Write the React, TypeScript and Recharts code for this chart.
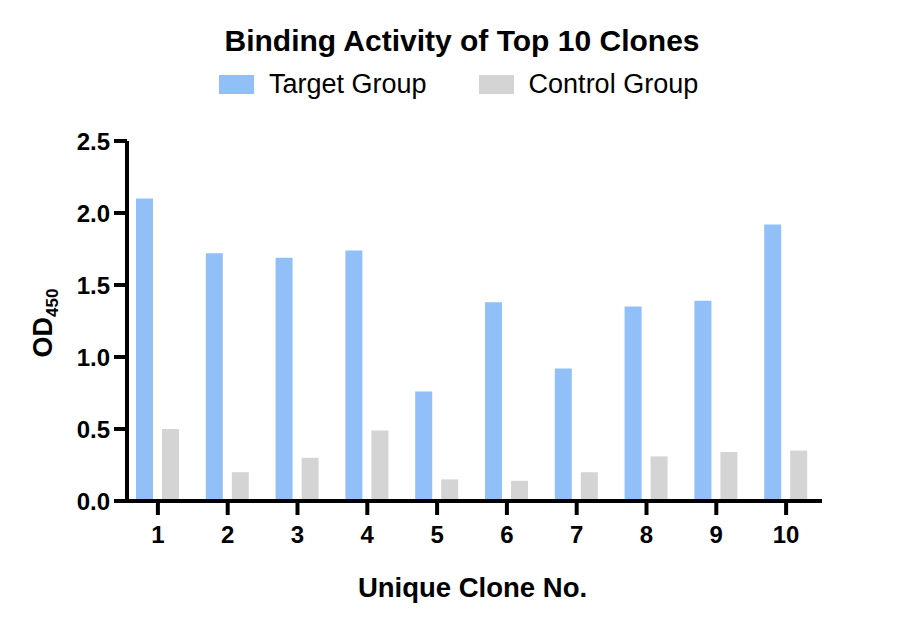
import React from "react";
import { BarChart, Bar, XAxis, YAxis, Legend } from "recharts";

const FONT = "'Liberation Sans', Arial, Helvetica, sans-serif";

// values
const clones = ["1", "2", "3", "4", "5", "6", "7", "8", "9", "10"];
const targetGroup = [2.1, 1.72, 1.69, 1.74, 0.76, 1.38, 0.92, 1.35, 1.39, 1.92];
const controlGroup = [0.5, 0.2, 0.3, 0.49, 0.15, 0.14, 0.2, 0.31, 0.34, 0.35];
const yTicks = [0, 0.5, 1, 1.5, 2, 2.5];
const seriesOrder = ["target", "control"];

const data = clones.map((clone, i) => ({
  clone,
  target: targetGroup[i],
  control: controlGroup[i],
}));

const BLUE = "#91bff8";
const GREY = "#d4d4d4";

const renderLegend = (props: any) => {
  const payload = [...(props.payload || [])].sort(
    (a: any, b: any) =>
      seriesOrder.indexOf(a.dataKey) - seriesOrder.indexOf(b.dataKey)
  );
  return (
    <div
      style={{
        display: "flex",
        alignItems: "center",
        height: 27,
        fontFamily: FONT,
        fontSize: 27,
        lineHeight: "27px",
        color: "#000",
        whiteSpace: "nowrap",
      }}
    >
      {payload.map((entry: any, i: number) => (
        <div
          key={entry.value}
          style={{
            display: "flex",
            alignItems: "center",
            marginLeft: i === 0 ? 219 : 52,
          }}
        >
          <span
            style={{
              display: "inline-block",
              width: 35,
              height: 19,
              background: entry.color,
              marginRight: 15,
            }}
          />
          <span>{entry.value}</span>
        </div>
      ))}
    </div>
  );
};

const YTitle = (props: any) => {
  const { viewBox } = props;
  const cy = viewBox.y + viewBox.height / 2 + 2;
  const x = 52;
  return (
    <text
      x={x}
      y={cy}
      transform={`rotate(-90, ${x}, ${cy})`}
      textAnchor="middle"
      fontFamily={FONT}
      fontWeight={700}
      fontSize={27}
      fill="#000"
    >
      OD
      <tspan fontSize={17} dy={6}>
        450
      </tspan>
    </text>
  );
};

const XTitle = (props: any) => {
  const { viewBox } = props;
  return (
    <text
      x={viewBox.x + viewBox.width / 2 - 2}
      y={597}
      textAnchor="middle"
      fontFamily={FONT}
      fontWeight={700}
      fontSize={27.5}
      fill="#000"
    >
      Unique Clone No.
    </text>
  );
};

const axisStroke = { stroke: "#000", strokeWidth: 4 };
const tickFont = {
  fill: "#000",
  fontSize: 24,
  fontWeight: 700,
  fontFamily: FONT,
};

export default function App() {
  return (
    <div
      style={{
        position: "absolute",
        left: 0,
        top: 0,
        width: 900,
        height: 632,
        background: "#fff",
      }}
    >
      <div
        style={{
          position: "absolute",
          top: 26,
          left: 0,
          width: 900,
          textAlign: "center",
          fontFamily: FONT,
          fontWeight: 700,
          fontSize: 30,
          lineHeight: "30px",
          color: "#000",
          paddingLeft: 24,
          boxSizing: "border-box",
        }}
      >
        Binding Activity of Top 10 Clones
      </div>
      <BarChart
        width={900}
        height={632}
        data={data}
        margin={{ top: 141, right: 78, bottom: 71, left: 47 }}
        barSize={17}
        barGap={9}
      >
        <Legend
          layout="horizontal"
          verticalAlign="middle"
          align="center"
          content={renderLegend}
          wrapperStyle={{ top: 71, left: 0, width: 900, height: 27 }}
        />
        <XAxis
          dataKey="clone"
          height={60}
          padding={{ left: -4, right: 1 }}
          tickSize={14}
          tickMargin={11}
          axisLine={axisStroke}
          tickLine={axisStroke}
          tick={tickFont}
          interval={0}
          label={{ content: XTitle }}
        />
        <YAxis
          type="number"
          width={80}
          domain={[0, 2.5]}
          ticks={yTicks}
          tickFormatter={(v: number) => v.toFixed(1)}
          tickSize={13}
          tickMargin={4}
          axisLine={axisStroke}
          tickLine={axisStroke}
          tick={tickFont}
          label={{ content: YTitle }}
        />
        <Bar
          dataKey="target"
          name="Target Group"
          fill={BLUE}
          isAnimationActive={false}
        />
        <Bar
          dataKey="control"
          name="Control Group"
          fill={GREY}
          isAnimationActive={false}
        />
      </BarChart>
    </div>
  );
}
